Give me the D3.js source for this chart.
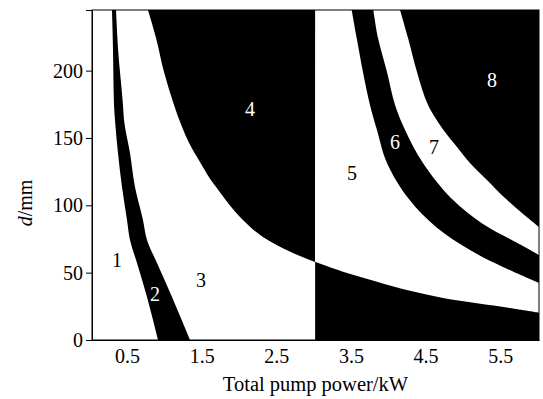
<!DOCTYPE html>
<html><head><meta charset="utf-8">
<script src="https://cdn.jsdelivr.net/npm/d3@7"></script>
<style>body{margin:0;background:#fff}</style></head>
<body>
<svg id="c" width="543" height="399"></svg>
<script>
// ---- data ----
const xTicks = [0.5, 1.5, 2.5, 3.5, 4.5, 5.5];
const yTicks = [0, 50, 100, 150, 200];
const xDomain = [0.03, 6.02];
const yDomain = [0, 245];
const splitP = 3.02;           // vertical boundary between the two halves (kW)

// black band "2": left and right edges at common d values
const band2D     = [245, 216.8, 174.5, 163.3, 138.8, 113.6, 89.1, 74.2, 57.2, 31.9, 0];
const band2Left  = [0.298, 0.311, 0.325, 0.338, 0.378, 0.432, 0.499, 0.539, 0.633, 0.767, 0.914];
const band2Right = [0.352, 0.378, 0.445, 0.459, 0.539, 0.606, 0.713, 0.767, 0.901, 1.102, 1.343];

// boundary of black region "4" (left half)
const curveCP = [0.780, 0.888, 0.995, 1.129, 1.200, 1.383, 1.477, 1.611, 1.705, 1.852, 2.053, 2.321, 2.723, 3.018];
const curveCD = [245, 224.2, 199.0, 174.5, 163.3, 140.8, 132.1, 119.8, 112.6, 101.7, 89.1, 76.5, 64.6, 57.9];

// right half: lower black region boundary (D)
const curveDP = [3.018, 3.393, 3.849, 4.291, 4.733, 5.189, 5.631, 6.020];
const curveDD = [58.1, 50.7, 43.3, 36.5, 31.2, 27.3, 23.8, 20.3];

// band "6" lower/left edge (E) and upper/right edge (F)
const curveEP = [3.510, 3.577, 3.661, 3.755, 3.849, 3.983, 4.271, 4.640, 5.095, 5.537, 6.020];
const curveED = [245, 224.2, 199.0, 174.5, 155.9, 131.4, 105.0, 83.9, 66.8, 54.2, 42.3];
const curveFP = [3.800, 3.863, 3.983, 4.091, 4.238, 4.465, 4.847, 5.269, 5.725, 6.020];
const curveFD = [245, 224.2, 199.0, 174.5, 154.4, 131.4, 105.0, 86.1, 72.2, 63.1];

// region "8" lower/left edge (G)
const curveGP = [4.158, 4.265, 4.385, 4.533, 4.760, 4.921, 5.095, 5.323, 5.564, 5.792, 6.020];
const curveGD = [245, 224.2, 199.0, 174.5, 154.4, 143.3, 131.4, 118.8, 105.4, 94.3, 83.9];

// region labels
const labelText  = ["1", "2", "3", "4", "5", "6", "7", "8"];
const labelP     = [0.365, 0.874, 1.491, 2.147, 3.514, 4.090, 4.613, 5.390];
const labelD     = [59.4, 34.2, 44.5, 171.5, 124.0, 147.0, 143.3, 193.0];
const labelWhite = [false, true, false, true, false, true, false, true];

// ---- layout ----
const W = 543, H = 399;
const m = {l: 92, r: 4, t: 10, b: 59};
const iw = W - m.l - m.r, ih = H - m.t - m.b;
const FONT = "'Liberation Serif', 'Times New Roman', serif";

const svg = d3.select("#c");
const g = svg.append("g").attr("transform", `translate(${m.l},${m.t})`);
const x = d3.scaleLinear().domain(xDomain).range([0, iw]);
const y = d3.scaleLinear().domain(yDomain).range([ih, 0]);

svg.append("defs").append("clipPath").attr("id", "clip")
  .append("rect").attr("width", iw).attr("height", ih);
const plot = g.append("g").attr("clip-path", "url(#clip)");

plot.append("rect").attr("width", iw).attr("height", ih).attr("fill", "#fff");

// band 2
const band2 = band2D.map((d, i) => ({d, l: band2Left[i], r: band2Right[i]}));
plot.append("path").datum(band2)
  .attr("d", d3.area().curve(d3.curveMonotoneY).y(p => y(p.d)).x0(p => x(p.l)).x1(p => x(p.r)))
  .attr("fill", "#000");

// region 4
const reg4 = curveCP.map((p, i) => ({p, d: curveCD[i]}));
plot.append("path").datum(reg4)
  .attr("d", d3.area().curve(d3.curveMonotoneY).y(q => y(q.d)).x0(q => x(q.p)).x1(() => x(splitP)))
  .attr("fill", "#000");

// right half: black base
plot.append("rect")
  .attr("x", x(splitP)).attr("y", y(yDomain[1]))
  .attr("width", x(xDomain[1]) - x(splitP)).attr("height", y(yDomain[0]) - y(yDomain[1]))
  .attr("fill", "#000");

const smooth = d3.line().curve(d3.curveCatmullRom.alpha(0.5)).x(q => x(q[0])).y(q => y(q[1]));
const pts = (P, D) => P.map((p, i) => [p, D[i]]);
const join = (...paths) => paths.map((s, i) => i ? s.replace(/^M/, "L") : s).join("") + "Z";

// white region 5: between D and E
const reg5Path = join(
  d3.line().x(q => x(q[0])).y(q => y(q[1]))([[splitP, yDomain[1]]]),
  smooth(pts(curveEP, curveED)),
  smooth(pts(curveDP, curveDD).reverse())
);
plot.append("path").attr("d", reg5Path).attr("fill", "#fff");

// white region 7: between F and G
const reg7Path = join(
  smooth(pts(curveFP, curveFD)),
  smooth(pts(curveGP, curveGD).reverse())
);
plot.append("path").attr("d", reg7Path).attr("fill", "#fff");

// labels
plot.selectAll("text.lab").data(labelText).join("text")
  .attr("class", "lab")
  .attr("x", (t, i) => x(labelP[i])).attr("y", (t, i) => y(labelD[i]))
  .attr("dy", "0.35em").attr("text-anchor", "middle")
  .attr("font-family", FONT).attr("font-size", 20)
  .attr("fill", (t, i) => labelWhite[i] ? "#fff" : "#000")
  .text(t => t);

// frame
g.append("rect").attr("width", iw).attr("height", ih)
  .attr("fill", "none").attr("stroke", "#000").attr("stroke-width", 1);

// axes
const xAxis = g.append("g").attr("transform", `translate(0,${ih})`)
  .call(d3.axisBottom(x).tickValues(xTicks).tickFormat(d3.format(".1f")).tickSize(0).tickPadding(9));
const yAxis = g.append("g")
  .call(d3.axisLeft(y).tickValues(yTicks).tickFormat(d3.format("d")).tickSize(6).tickPadding(3));
[xAxis, yAxis].forEach(a => {
  a.select(".domain").attr("stroke", "#000");
  a.selectAll("text").attr("font-family", FONT).attr("font-size", 20).attr("fill", "#000");
  a.selectAll("line").attr("stroke", "#000");
});

// axis titles
svg.append("text")
  .attr("x", m.l + iw / 2).attr("y", 391)
  .attr("text-anchor", "middle")
  .attr("font-family", FONT).attr("font-size", 20.5)
  .text("Total pump power/kW");

const yt = svg.append("text")
  .attr("transform", "translate(32,203) rotate(-90)")
  .attr("text-anchor", "middle")
  .attr("font-family", FONT).attr("font-size", 20);
yt.append("tspan").attr("font-style", "italic").text("d");
yt.append("tspan").text("/mm");
</script>
</body></html>
